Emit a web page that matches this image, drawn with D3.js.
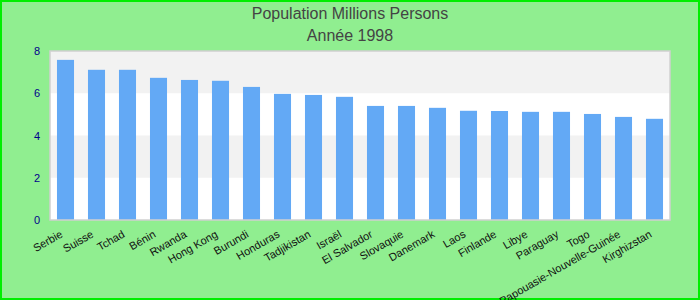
<!DOCTYPE html>
<html>
<head>
<meta charset="utf-8">
<script src="https://d3js.org/d3.v7.min.js"></script>
<style>
  body { margin: 0; }
  svg { display: block; font-family: "Liberation Sans", Arial, sans-serif; }
</style>
</head>
<body>
<script>
// ================================ data
var countries = ["Serbie", "Suisse", "Tchad", "Bénin", "Rwanda", "Hong Kong", "Burundi",
  "Honduras", "Tadjikistan", "Israël", "El Salvador", "Slovaquie", "Danemark", "Laos",
  "Finlande", "Libye", "Paraguay", "Togo", "Papouasie-Nouvelle-Guinée", "Kirghizstan"];
var population = [7.58, 7.11, 7.11, 6.73, 6.63, 6.59, 6.30, 5.97, 5.92, 5.83,
  5.40, 5.40, 5.31, 5.17, 5.16, 5.12, 5.12, 5.02, 4.88, 4.79];
var yTicks = [0, 2, 4, 6, 8];
var titleLines = ["Population Millions Persons", "Année 1998"];

// ================================ sizes
var svgWidth = 700;
var svgHeight = 300;
var chartMargin = { top: 51, right: 30, bottom: 80, left: 50 };
var chartWidth = svgWidth - chartMargin.left - chartMargin.right;
var chartHeight = svgHeight - chartMargin.top - chartMargin.bottom;

var svg = d3.select("body")
  .append("svg")
  .attr("width", svgWidth)
  .attr("height", svgHeight);

// background + border
svg.append("rect")
  .attr("x", 1).attr("y", 1)
  .attr("width", svgWidth - 2).attr("height", svgHeight - 2)
  .attr("fill", "#90ee90")
  .attr("stroke", "#00ee00")
  .attr("stroke-width", 2);

// title
svg.selectAll(".title")
  .data(titleLines)
  .enter()
  .append("text")
  .attr("class", "title")
  .attr("x", svgWidth / 2)
  .attr("y", (d, i) => 19 + i * 22)
  .attr("text-anchor", "middle")
  .attr("fill", "#444")
  .style("font-size", "16px")
  .text(d => d);

var chartGroup = svg.append("g")
  .attr("transform", `translate(${chartMargin.left}, ${chartMargin.top})`);

var xBandScale = d3.scaleBand()
  .domain(countries)
  .range([0, chartWidth])
  .paddingInner(0.45)
  .paddingOuter(0.225);

var yLinearScale = d3.scaleLinear()
  .domain([0, 8])
  .range([chartHeight, 0]);

// plot background with alternating bands
chartGroup.append("rect")
  .attr("width", chartWidth)
  .attr("height", chartHeight)
  .attr("fill", "#fff");

chartGroup.selectAll(".band")
  .data(d3.pairs(yTicks).filter((p, i) => i % 2 == 1))
  .enter()
  .append("rect")
  .attr("class", "band")
  .attr("x", 0)
  .attr("y", d => yLinearScale(d[1]))
  .attr("width", chartWidth)
  .attr("height", d => yLinearScale(d[0]) - yLinearScale(d[1]))
  .attr("fill", "#f2f2f2");

// bars
chartGroup.selectAll(".bar")
  .data(population)
  .enter()
  .append("rect")
  .attr("class", "bar")
  .attr("x", (d, i) => xBandScale(countries[i]))
  .attr("y", d => yLinearScale(d))
  .attr("width", xBandScale.bandwidth())
  .attr("height", d => chartHeight - yLinearScale(d))
  .attr("fill", "#63a9f5");

// frame
chartGroup.append("rect")
  .attr("width", chartWidth)
  .attr("height", chartHeight)
  .attr("fill", "none")
  .attr("stroke", "#d0d0d0")
  .attr("stroke-width", 1.5);

// y axis
var leftAxis = d3.axisLeft(yLinearScale).tickValues(yTicks).tickSize(0).tickPadding(10);
var yAxisG = chartGroup.append("g").call(leftAxis);
yAxisG.select(".domain").remove();
yAxisG.selectAll("text")
  .attr("fill", "#00008b")
  .style("font-size", "11px")
  .style("font-family", "Liberation Sans, Arial, sans-serif");

// x axis
var bottomAxis = d3.axisBottom(xBandScale).tickSize(0);
var xAxisG = chartGroup.append("g")
  .attr("transform", `translate(0, ${chartHeight})`)
  .call(bottomAxis);
xAxisG.select(".domain").remove();
xAxisG.selectAll("text")
  .attr("y", 0)
  .attr("x", 0)
  .attr("dy", "0.35em")
  .attr("transform", "translate(-4, 13) rotate(-30)")
  .attr("fill", "#111")
  .style("text-anchor", "end")
  .style("font-size", "11px")
  .style("font-family", "Liberation Sans, Arial, sans-serif");
</script>
</body>
</html>
